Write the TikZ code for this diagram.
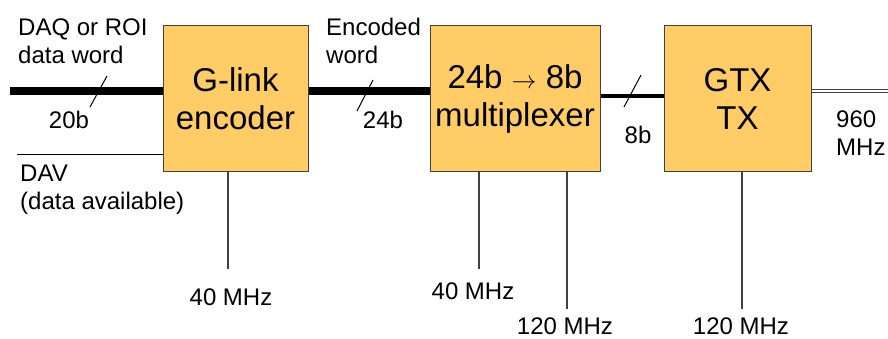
\documentclass[tikz,border=0pt]{standalone}
\usepackage{fontspec}
\setmainfont{Liberation Sans}
\usetikzlibrary{positioning}
\definecolor{boxfill}{RGB}{255,204,102}
\definecolor{boxline}{RGB}{64,64,64}
\begin{document}
\begin{tikzpicture}[x=1pt, y=-1pt,
        block/.style = {draw=boxline,
            fill=boxfill,
            line width=1pt,
            minimum height=146pt,
            align=center,
            font=\fontsize{33}{38}\selectfont
        },
        lbl/.style = {inner sep=0pt,
            align=left,
            font=\fontsize{24}{28}\selectfont
        },
        bus/.style = {line width=8pt},
        clk/.style = {draw=boxline, line width=1.2pt}]

    \useasboundingbox (0,0) rectangle (888,339);

    % Blocks
    \node [block, minimum width=145pt] (enc) at (235.5,99) {G-link\\encoder};
    \node [block, minimum width=170pt] (mux) at (515,99) {24b $\rightarrow$ 8b\\multiplexer};
    \node [block, minimum width=147pt] (gtx) at (737.5,99) {GTX\\TX};

    % Free ends
    \coordinate (in) at (10,91);
    \coordinate (dav) at (17,155);
    \coordinate (out) at (888,91);

    % Data path
    \draw[bus] (in) -- (in -| enc.west);
    \draw[bus] (enc.east |- in) -- (mux.west |- in);
    \draw[line width=4pt] (mux.east |- 0,96) -- (gtx.west |- 0,96);
    \draw[boxline, double=white, double distance=2.5pt, line width=1pt]
        (gtx.east |- out) -- (out);
    \draw[line width=1pt] (dav) -- (dav -| enc.west);

    % Width ticks
    \draw[line width=1pt] (90,107) -- (107,76);
    \draw[line width=1pt] (357,111) -- (373,80);
    \draw[line width=1pt] (624,107) -- (641,75);

    % Clocks
    \coordinate (c1) at (228,269);
    \coordinate (c2) at (479,269);
    \coordinate (c3) at (567,309);
    \coordinate (c4) at (742,309);
    \draw[clk] (enc.south -| c1) -- (c1);
    \draw[clk] (mux.south -| c2) -- (c2);
    \draw[clk] (mux.south -| c3) -- (c3);
    \draw[clk] (gtx.south -| c4) -- (c4);

    % Labels
    \node [lbl, anchor=west] (daq) at (18,41) {DAQ or ROI\\data word};
    \node [lbl] (w20) at (69,120) {20b};
    \node [lbl, anchor=west] (davl) at (20,190) {DAV\\(data available)};
    \node [lbl, anchor=west] (encw) at (326,41) {Encoded\\word};
    \node [lbl] (w24) at (383,120) {24b};
    \node [lbl] (w8) at (638,135) {8b};
    \node [lbl, anchor=west] (fout) at (836,133) {960\\MHz};
    \node [lbl] (f1) at (231,297) {40 MHz};
    \node [lbl] (f2) at (473,291) {40 MHz};
    \node [lbl] (f3) at (565,326) {120 MHz};
    \node [lbl] (f4) at (741,326) {120 MHz};

\end{tikzpicture}
\end{document}
